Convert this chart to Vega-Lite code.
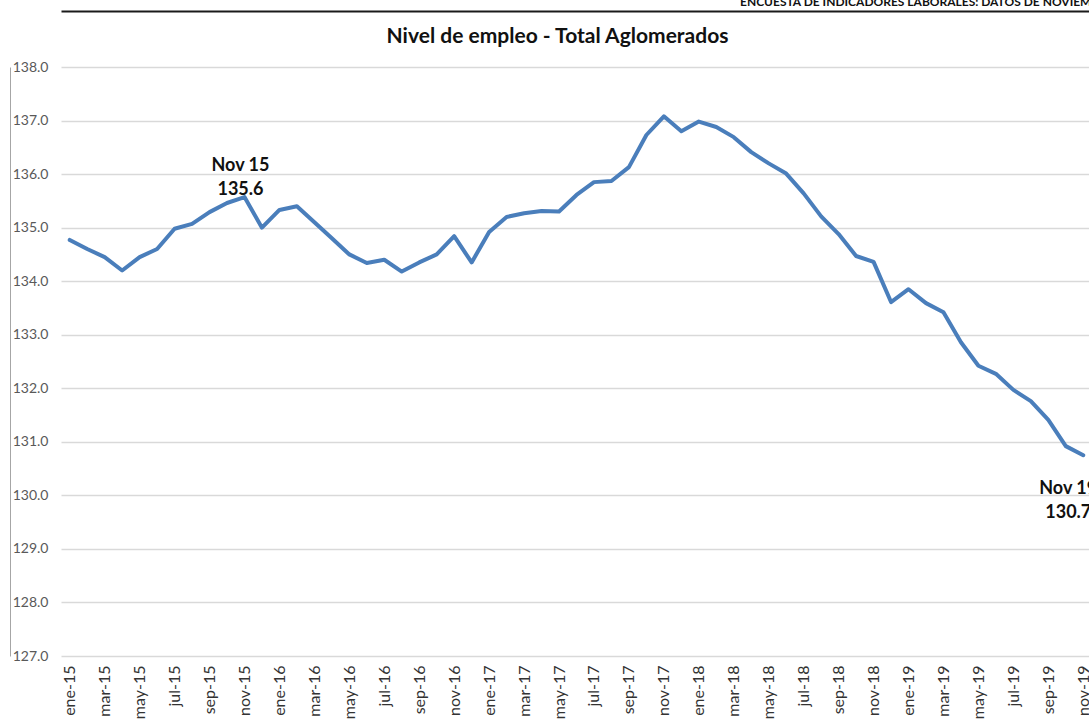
{
  "$schema": "https://vega.github.io/schema/vega-lite/v6.json",
  "autosize": {"type": "none"},
  "padding": {"left": 61, "top": 67, "right": 0, "bottom": 64},
  "width": 1031,
  "height": 589,
  "background": "white",
  "config": {
    "font": "Lato",
    "view": {"stroke": null}
  },
  "title": {
    "text": "ENCUESTA DE INDICADORES LABORALES: DATOS DE NOVIEMBRE 2019",
    "anchor": "start",
    "frame": "group",
    "dx": 679,
    "offset": -7,
    "baseline": "alphabetic",
    "font": "Lato",
    "fontSize": 12,
    "fontWeight": "bold",
    "color": "#111111"
  },
  "datasets": {
    "serie": [
      {"mes": "ene-15", "valor": 134.77}, {"mes": "feb-15", "valor": 134.6}, {"mes": "mar-15", "valor": 134.45}, {"mes": "abr-15", "valor": 134.2},
      {"mes": "may-15", "valor": 134.45}, {"mes": "jun-15", "valor": 134.6}, {"mes": "jul-15", "valor": 134.98}, {"mes": "ago-15", "valor": 135.07},
      {"mes": "sep-15", "valor": 135.29}, {"mes": "oct-15", "valor": 135.46}, {"mes": "nov-15", "valor": 135.57}, {"mes": "dic-15", "valor": 135.0},
      {"mes": "ene-16", "valor": 135.33}, {"mes": "feb-16", "valor": 135.4}, {"mes": "mar-16", "valor": 135.1}, {"mes": "abr-16", "valor": 134.8},
      {"mes": "may-16", "valor": 134.5}, {"mes": "jun-16", "valor": 134.34}, {"mes": "jul-16", "valor": 134.4}, {"mes": "ago-16", "valor": 134.18},
      {"mes": "sep-16", "valor": 134.35}, {"mes": "oct-16", "valor": 134.5}, {"mes": "nov-16", "valor": 134.84}, {"mes": "dic-16", "valor": 134.35},
      {"mes": "ene-17", "valor": 134.92}, {"mes": "feb-17", "valor": 135.2}, {"mes": "mar-17", "valor": 135.27}, {"mes": "abr-17", "valor": 135.31},
      {"mes": "may-17", "valor": 135.3}, {"mes": "jun-17", "valor": 135.61}, {"mes": "jul-17", "valor": 135.85}, {"mes": "ago-17", "valor": 135.87},
      {"mes": "sep-17", "valor": 136.13}, {"mes": "oct-17", "valor": 136.73}, {"mes": "nov-17", "valor": 137.08}, {"mes": "dic-17", "valor": 136.8},
      {"mes": "ene-18", "valor": 136.98}, {"mes": "feb-18", "valor": 136.88}, {"mes": "mar-18", "valor": 136.69}, {"mes": "abr-18", "valor": 136.41},
      {"mes": "may-18", "valor": 136.2}, {"mes": "jun-18", "valor": 136.01}, {"mes": "jul-18", "valor": 135.64}, {"mes": "ago-18", "valor": 135.21},
      {"mes": "sep-18", "valor": 134.88}, {"mes": "oct-18", "valor": 134.47}, {"mes": "nov-18", "valor": 134.36}, {"mes": "dic-18", "valor": 133.61},
      {"mes": "ene-19", "valor": 133.85}, {"mes": "feb-19", "valor": 133.59}, {"mes": "mar-19", "valor": 133.42}, {"mes": "abr-19", "valor": 132.86},
      {"mes": "may-19", "valor": 132.42}, {"mes": "jun-19", "valor": 132.27}, {"mes": "jul-19", "valor": 131.97}, {"mes": "ago-19", "valor": 131.76},
      {"mes": "sep-19", "valor": 131.41}, {"mes": "oct-19", "valor": 130.92}, {"mes": "nov-19", "valor": 130.75}
    ],
    "notas": [
      {"mes": "nov-15", "valor": 135.57, "etiqueta": "Nov 15\n135.6", "pos": "arriba"},
      {"mes": "nov-19", "valor": 130.75, "etiqueta": "Nov 19\n130.7", "pos": "abajo"}
    ]
  },
  "layer": [
    {
      "data": {"name": "serie"},
      "mark": {"type": "line", "color": "#4A7EBB", "strokeWidth": 4, "strokeJoin": "round", "strokeCap": "round"},
      "encoding": {
        "x": {
          "field": "mes", "type": "ordinal", "sort": null,
          "scale": {"type": "point", "padding": 0.5},
          "axis": {
            "orient": "bottom", "title": null, "domain": false, "ticks": false, "grid": false,
            "labelAngle": -90, "labelPadding": 9, "labelFont": "Lato", "labelFontSize": 16, "labelColor": "#333333",
            "values": ["ene-15","mar-15","may-15","jul-15","sep-15","nov-15","ene-16","mar-16","may-16","jul-16","sep-16","nov-16","ene-17","mar-17","may-17","jul-17","sep-17","nov-17","ene-18","mar-18","may-18","jul-18","sep-18","nov-18","ene-19","mar-19","may-19","jul-19","sep-19","nov-19"]
          }
        },
        "y": {
          "field": "valor", "type": "quantitative",
          "scale": {"domain": [127, 138], "nice": false, "zero": false},
          "axis": {
            "orient": "left", "title": null, "domain": false, "ticks": false,
            "values": [127,128,129,130,131,132,133,134,135,136,137,138],
            "format": ".1f", "labelPadding": 13, "labelFont": "Lato", "labelFontSize": 14, "labelColor": "#595959",
            "grid": true, "gridColor": "#D9D9D9", "gridWidth": 1.5
          }
        }
      }
    },
    {
      "data": {"name": "notas"},
      "transform": [{"filter": "datum.pos == 'arriba'"}],
      "mark": {"type": "text", "lineBreak": "\n", "lineHeight": 24, "baseline": "middle", "align": "center", "dx": -4, "dy": -31, "font": "Lato", "fontSize": 18, "fontWeight": "bold", "color": "#111111"},
      "encoding": {
        "x": {
          "field": "mes", "type": "ordinal", "sort": null,
          "axis": {"orient": "top", "offset": 56, "title": "Nivel de empleo - Total Aglomerados",
            "titleFont": "Lato", "titleFontSize": 21, "titleFontWeight": "bold", "titleColor": "#111111",
            "titleAnchor": "middle", "titleX": 496, "titleY": 31, "titleBaseline": "alphabetic", "titleAngle": 0,
            "labels": false, "ticks": false, "grid": false, "domain": true, "domainColor": "#1a1a1a", "domainWidth": 2}
        },
        "y": {
          "field": "valor", "type": "quantitative",
          "axis": {"orient": "left", "offset": 51, "title": null, "labels": false, "ticks": false, "grid": false, "domain": true, "domainColor": "#A6A6A6", "domainWidth": 1}
        },
        "text": {"field": "etiqueta"}
      }
    },
    {
      "data": {"name": "notas"},
      "transform": [{"filter": "datum.pos == 'abajo'"}],
      "mark": {"type": "text", "lineBreak": "\n", "lineHeight": 24, "baseline": "middle", "align": "center", "dx": -15, "dy": 34, "font": "Lato", "fontSize": 18, "fontWeight": "bold", "color": "#111111"},
      "encoding": {
        "x": {"field": "mes", "type": "ordinal", "sort": null, "axis": null},
        "y": {"field": "valor", "type": "quantitative", "axis": null},
        "text": {"field": "etiqueta"}
      }
    }
  ],
  "resolve": {"axis": {"x": "independent", "y": "independent"}}
}
